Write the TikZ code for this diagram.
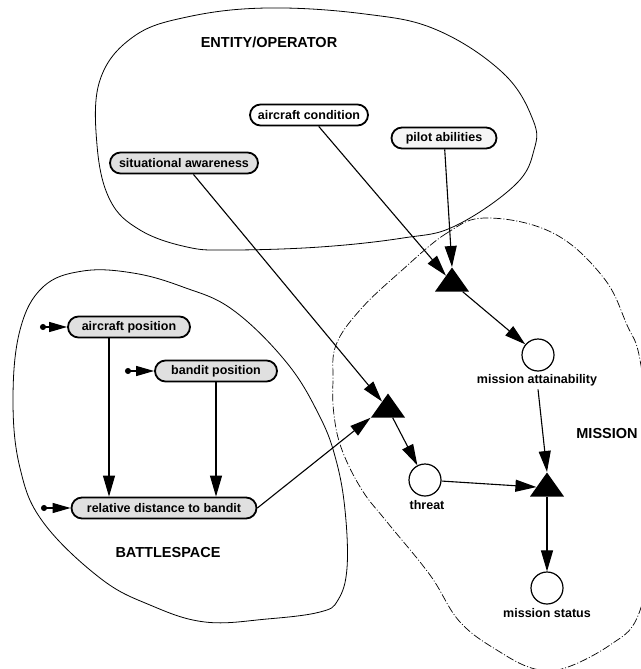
\documentclass[tikz,border=0pt]{standalone}
\usepackage{fontspec}
\setmainfont{Liberation Sans}
\usetikzlibrary{arrows.meta,shapes.geometric,calc}

\begin{document}
\begin{tikzpicture}[x=1pt,y=-1pt,
  every node/.style={font=\fontsize{12.5}{14}\selectfont\bfseries},
  varbox/.style={draw, line width=1.8pt, rounded corners=10.5pt, minimum height=21pt,
                 inner xsep=0pt, inner ysep=0pt},
  stipple/.style={varbox, fill=gray!24},
  speckle/.style={varbox, fill=gray!8},
  plainbox/.style={varbox, fill=white},
  chance/.style={isosceles triangle, isosceles triangle stretches, shape border rotate=90,
                 fill=black, inner sep=0pt, minimum width=34pt, minimum height=24pt, anchor=apex},
  outcome/.style={circle, draw, line width=1.2pt, minimum size=32pt, inner sep=0pt, fill=white},
  link/.style={line width=1.1pt, -{Triangle[length=21pt,width=12pt]}},
  feed/.style={line width=1.2pt, {Circle[length=6pt]}-{Triangle[length=18pt,width=10pt]}},
  region/.style={line width=0.8pt},
  missionregion/.style={line width=0.7pt, dash pattern=on 8pt off 2pt on 1pt off 2pt},
  title/.style={font=\fontsize{14.5}{16}\selectfont\bfseries},
]
\useasboundingbox (0,0) rectangle (640,669);

% regions
\draw[region] plot[smooth cycle, tension=0.65] coordinates {
  (267,8) (365,14) (437,30) (503,73) (533,120) (534,150) (515,185) (455,226)
  (403,238) (320,247) (230,250) (187,247) (140,230) (110,200) (97,145) (100,80)
  (133,37) (187,17)};
\draw[region] plot[smooth cycle, tension=0.65] coordinates {
  (83,271) (133,273) (183,287) (233,310) (287,363) (320,417) (336,460) (345,510)
  (347,568) (338,600) (320,612) (267,619) (205,622) (150,605) (100,578) (43,522)
  (20,468) (13,400) (20,330) (43,287)};
\draw[missionregion] plot[smooth cycle, tension=0.65] coordinates {
  (487,218) (447,233) (400,272) (360,310) (336,345) (333,380) (334,415) (342,450)
  (362,490) (387,522) (430,575) (460,622) (500,652) (535,669) (565,668) (610,645)
  (637,618) (648,560) (650,450) (640,360) (627,325) (603,277) (553,233)};

% region titles
\node[title] (enttitle) at (269,42) {ENTITY/OPERATOR};
\node[title] (bstitle) at (168,553) {BATTLESPACE};
\node[title] (mistitle) at (607,434) {MISSION};

% variables
\node[plainbox, minimum width=118pt] (acond) at (309,115) {aircraft condition};
\node[speckle, minimum width=105pt] (pilot) at (444,138) {pilot abilities};
\node[stipple, minimum width=148pt] (sa) at (184,163) {situational awareness};
\node[stipple, minimum width=122pt] (apos) at (129,327) {aircraft position};
\node[stipple, minimum width=122pt] (bpos) at (216,371) {bandit position};
\node[stipple, minimum width=185pt] (rdist) at (164,508) {relative distance to bandit};

% chance nodes
\node[chance] (t1) at (452,267) {};
\node[chance] (t2) at (388,393) {};
\node[chance] (t3) at (547,472) {};

% outcome nodes
\node[outcome] (matt) at (538,355) {};
\node (mattl) at (537,380) {mission attainability};
\node[outcome] (threat) at (425,480) {};
\node (threatl) at (427,505) {threat};
\node[outcome] (mstat) at (547,588) {};
\node (mstatl) at (547,613) {mission status};

% external inputs
\coordinate (apin) at (40,327);
\coordinate (bpin) at (125,371);
\coordinate (rdin) at (41,508);
\draw[feed] (apin) -- (apos.west);
\draw[feed] (bpin) -- (bpos.west);
\draw[feed] (rdin) -- (rdist.west);

% influences
\draw[link] (acond) -- (t1);
\draw[link] (pilot) -- (t1.apex);
\draw[link] (sa) -- (t2);
\draw[link] ([xshift=-20pt]apos.south) -- ([xshift=-20pt]apos.south |- rdist.north);
\draw[link] (bpos.south) -- (bpos.south |- rdist.north);
\draw[link] (rdist.east) -- (t2.left corner);
\draw[link] (t1) -- (matt);
\draw[link] (t2) -- (threat);
\draw[link] (mattl) -- (t3.apex);
\draw[link] (threat) -- (t3);
\draw[link] (t3) -- (mstat);
\end{tikzpicture}
\end{document}
